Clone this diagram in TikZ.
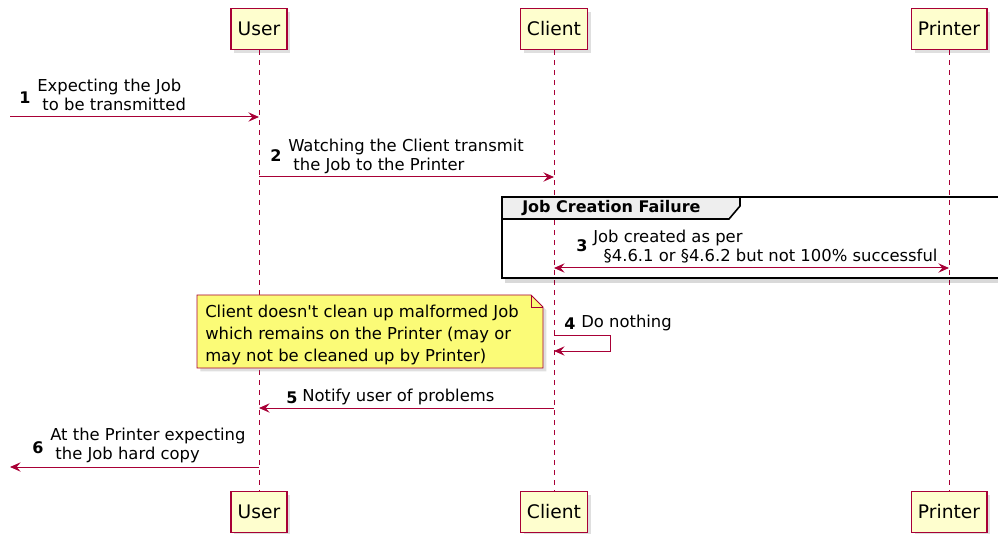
\documentclass[tikz,border=0pt]{standalone}
\usepackage{fontspec}
\setmainfont{DejaVu Sans}
\usetikzlibrary{arrows.meta,positioning,shapes,shadows}
\definecolor{plum}{HTML}{A80036}
\definecolor{actorfill}{HTML}{FEFECE}
\definecolor{notefill}{HTML}{FBFB77}
\definecolor{groupgrey}{HTML}{EEEEEE}

\begin{document}
\begin{tikzpicture}[x = 0.75pt, y = -0.75pt,
  actor/.style = {draw = plum, fill = actorfill, line width = 1.2pt, font = \fontsize{14}{16}\selectfont, minimum height = 30.5pt, inner xsep = 5pt, drop shadow = {opacity = .25, shadow xshift = 2.5pt, shadow yshift = -2.5pt}},
  life/.style = {plum, dash pattern = on 4pt off 3.5pt, line width = .6pt},
  msg/.style = {plum, line width = .75pt, -{Stealth[length = 8pt, width = 7pt, inset = 3pt]}},
  lbl/.style = {align = left, anchor = north west, inner sep = 0pt, font = \fontsize{12.3}{14}\selectfont},
  num/.style = {inner sep = 0pt, font = \bfseries\fontsize{12}{14}\selectfont}]
\useasboundingbox (0,0) rectangle (998,534);

% participants
\node[actor] (userTop) at (259,29) {User};
\node[actor] (clientTop) at (554,29) {Client};
\node[actor] (printerTop) at (949,29) {Printer};
\node[actor] (userBot) at (259,512) {User};
\node[actor] (clientBot) at (554,512) {Client};
\node[actor] (printerBot) at (949,512) {Printer};

% lifelines
\draw[life] (userTop) -- (userBot);
\draw[life] (clientTop) -- (clientBot);
\draw[life] (printerTop) -- (printerBot);

% group frame
\fill[black, opacity = .15] (505,279) rectangle (1010,283);
\draw[black, line width = 1.5pt] (502,197) rectangle (1010,278);
\draw[black, line width = 1.2pt, fill = groupgrey] (502,197) -- (740,197) -- (740,206) -- (729,219) -- (502,219) -- cycle;
\node[anchor = west, inner sep = 0pt, font = \bfseries\fontsize{12}{14}\selectfont] (grp) at (522,208) {Job Creation Failure};

% 1
\coordinate (m1) at (10,117);
\draw[msg] (m1) -- (userTop |- m1);
\node[num] (n1) at (25,98) {1};
\node[lbl] (t1) at (37,79) {Expecting the Job\\ \ to be transmitted};

% 2
\coordinate (m2) at (0,177);
\draw[msg] (userTop |- m2) -- (clientTop |- m2);
\node[num] (n2) at (276,156) {2};
\node[lbl] (t2) at (288,139) {Watching the Client transmit\\ \ the Job to the Printer};

% 3
\coordinate (m3) at (0,268);
\draw[msg, {Stealth[length = 8pt, width = 7pt, inset = 3pt]}-{Stealth[length = 8pt, width = 7pt, inset = 3pt]}] (clientTop |- m3) -- (printerTop |- m3);
\node[num] (n3) at (582,246) {3};
\node[lbl] (t3) at (593,230) {Job created as per\\ \ \ §4.6.1 or §4.6.2 but not 100\% successful};

% note
\draw[plum, line width = .7pt, fill = notefill, drop shadow = {opacity = .25, shadow xshift = 2.5pt, shadow yshift = -2.5pt}] (197,295) -- (531,295) -- (543,307) -- (543,368) -- (197,368) -- cycle;
\draw[plum, line width = .7pt] (531,295) -- (531,307) -- (543,307);
\node[lbl, font = \fontsize{12.3}{16.5}\selectfont] (note) at (205,305) {Client doesn\textquotesingle t clean up malformed Job\\which remains on the Printer (may or\\may not be cleaned up by Printer)};

% 4
\coordinate (m4a) at (610,335);
\coordinate (m4b) at (610,351);
\draw[msg] (clientTop |- m4a) -- (m4a) -- (m4b) -- (clientTop |- m4b);
\node[num] (n4) at (570,324) {4};
\node[lbl] (t4) at (581,315) {Do nothing};

% 5
\coordinate (m5) at (0,408);
\draw[msg] (clientTop |- m5) -- (userTop |- m5);
\node[num] (n5) at (292,398) {5};
\node[lbl] (t5) at (302,389) {Notify user of problems};

% 6
\coordinate (m6) at (10,467);
\draw[msg] (userTop |- m6) -- (m6);
\node[num] (n6) at (38,448) {6};
\node[lbl] (t6) at (50,428) {At the Printer expecting\\ \ the Job hard copy};
\end{tikzpicture}
\end{document}
